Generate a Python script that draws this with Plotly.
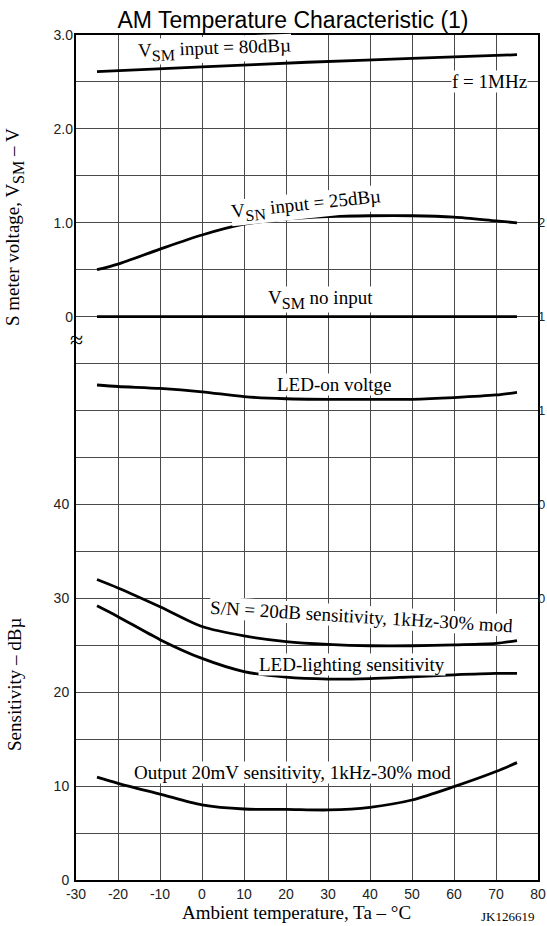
import plotly.graph_objects as go

# Ambient temperature sample points (°C)
temp_sm80 = [-25, 0, 25, 50, 75]
vsm_input80 = [2.61, 2.66, 2.71, 2.75, 2.79]

temp_curve = [-25, -20, -10, 0, 10, 20, 30, 40, 50, 60, 70, 75]
vsn_input25 = [0.50, 0.56, 0.72, 0.87, 0.985, 1.04, 1.065, 1.075, 1.075, 1.06, 1.02, 1.00]

temp_flat = [-25, 75]
vsm_no_input = [0.0, 0.0]

led_on_voltage = [1.136, 1.128, 1.118, 1.10, 1.074, 1.063, 1.06, 1.06, 1.06, 1.069, 1.083, 1.097]

sn20_sensitivity = [32.0, 31.1, 29.1, 27.0, 26.0, 25.4, 25.1, 24.95, 24.95, 25.05, 25.2, 25.5]
led_lighting_sens = [29.2, 28.05, 25.6, 23.6, 22.2, 21.6, 21.4, 21.45, 21.65, 21.85, 22.0, 22.0]
output20mv_sens = [10.95, 10.3, 9.15, 8.0, 7.56, 7.53, 7.46, 7.74, 8.52, 9.94, 11.55, 12.5]

x_ticks = list(range(-30, 81, 10))
x_ticktext = [str(v) for v in x_ticks]
db_ticks = [0, 10, 20, 30, 40]
vsm_ticks = [0, 1, 2, 3]
vsm_ticktext = ["0", "1.0", "2.0", "3.0"]
# right-hand LED-on voltage scale; only the leading digit fits beside the frame
led_ticks = [0, 0.5, 1.0, 1.5, 2.0]
led_ticktext = ["0", "0", "1", "1", "2"]

SANS = "Liberation Sans, Arial, sans-serif"
SERIF = "Liberation Serif, Times New Roman, serif"
LINE = dict(color="black", width=2.8, shape="spline", smoothing=0.8)
TICKFONT = dict(family=SANS, size=14, color="#222")

fig = go.Figure()

# S-meter voltage curves (left, upper scale)
fig.add_trace(go.Scatter(x=temp_sm80, y=vsm_input80, yaxis="y2", mode="lines", line=LINE))
fig.add_trace(go.Scatter(x=temp_curve, y=vsn_input25, yaxis="y2", mode="lines", line=LINE))
fig.add_trace(go.Scatter(x=temp_flat, y=vsm_no_input, yaxis="y2", mode="lines", line=LINE))
# LED-on voltage (right scale)
fig.add_trace(go.Scatter(x=temp_curve, y=led_on_voltage, yaxis="y3", mode="lines", line=LINE))
# Sensitivity curves (left, lower scale)
fig.add_trace(go.Scatter(x=temp_curve, y=sn20_sensitivity, yaxis="y", mode="lines", line=LINE))
fig.add_trace(go.Scatter(x=temp_curve, y=led_lighting_sens, yaxis="y", mode="lines", line=LINE))
fig.add_trace(go.Scatter(x=temp_curve, y=output20mv_sens, yaxis="y", mode="lines", line=LINE))

grid_vals = list(range(0, 91, 5))
grid_text = [str(v) if v in db_ticks else "" for v in grid_vals]

fig.update_layout(
    width=547, height=926,
    margin=dict(l=76, r=9, t=35, b=46, autoexpand=False),
    paper_bgcolor="white", plot_bgcolor="white",
    showlegend=False,
    title=dict(text="AM Temperature Characteristic (1)", font=dict(family=SANS, size=23, color="black"),
               xref="container", yref="container", x=293 / 547, xanchor="center",
               y=1 - 20 / 926, yanchor="middle"),
    xaxis=dict(range=[-30, 80], tickvals=x_ticks, ticktext=x_ticktext, ticks="", showgrid=True,
               gridcolor="#4a4a4a", gridwidth=1, zeroline=False, showline=True, linecolor="black",
               linewidth=2, mirror=True, automargin=False, tickfont=TICKFONT),
    yaxis=dict(range=[0, 90], tickvals=grid_vals, ticktext=grid_text, ticks="", showgrid=True,
               gridcolor="#4a4a4a", gridwidth=1, zeroline=False, showline=True, linecolor="black",
               linewidth=2, mirror=True, ticklabelstandoff=2, automargin=False, tickfont=TICKFONT),
    yaxis2=dict(range=[-6, 3], overlaying="y", side="left", anchor="x", tickvals=vsm_ticks,
                ticktext=vsm_ticktext, ticks="", showgrid=False, zeroline=False, showline=False,
                ticklabelstandoff=2, automargin=False, tickfont=TICKFONT),
    yaxis3=dict(range=[-1.5, 3.0], overlaying="y", side="right", anchor="x", tickvals=led_ticks,
                ticktext=led_ticktext, ticks="", showgrid=False, zeroline=False, showline=False,
                ticklabelstandoff=-1, automargin=False,
                tickfont=dict(family=SANS, size=13, color="#222")),
)


def sub(s, size=16):
    return f'<span style="font-size:{size}px;baseline-shift:-5px">{s}</span>'


def label(text, x, y, angle=0, size=19, font=SERIF, bg="white"):
    fig.add_annotation(text=text, x=x, y=y, xref="paper", yref="paper", showarrow=False,
                       textangle=angle, font=dict(family=font, size=size, color="black"),
                       bgcolor=bg, borderpad=0, xanchor="center", yanchor="middle")


def px(xp):
    return (xp - 76) / 462


def py(yp):
    return (880 - yp) / 845


label("V" + sub("SM") + " input = 80dBµ", px(214), py(50), angle=-2)
label("f = 1MHz", px(489), py(82))
label("V" + sub("SN") + " input = 25dBµ", px(306), py(205), angle=-6)
label("V" + sub("SM") + " no input", px(320), py(299))
label("LED-on voltge", px(334), py(384))
label("S/N = 20dB sensitivity, 1kHz-30% mod", px(361), py(616), angle=3.5)
label("LED-lighting sensitivity", px(352), py(664))
label("Output 20mV sensitivity, 1kHz-30% mod", px(292), py(772))

# axis break mark on the voltage scale
label("≈", px(76), py(340), size=24, bg="rgba(0,0,0,0)")

# axis titles
label("Ambient temperature, Ta – °C", px(296), py(912), bg="rgba(0,0,0,0)")
label("S meter voltage, V" + sub("SM") + " – V", px(15), py(227), angle=-90, bg="rgba(0,0,0,0)")
label("Sensitivity – dBµ", px(15), py(685), angle=-90, bg="rgba(0,0,0,0)")
label("JK126619", px(507), py(917), size=13, bg="rgba(0,0,0,0)")

fig.write_html("out.html")
